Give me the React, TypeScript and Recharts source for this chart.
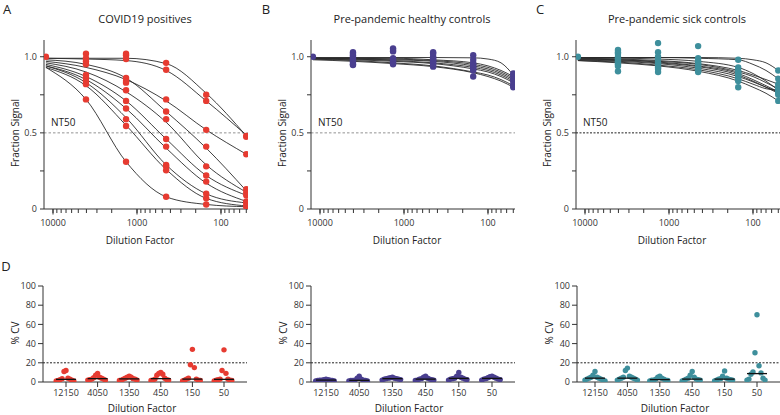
import React from "react";
import { ComposedChart, Line, Scatter, XAxis, YAxis, ReferenceLine } from "recharts";

const dilutions = [12150, 4050, 1350, 450, 150, 50];
const dilutionLabels = ["12150", "4050", "1350", "450", "150", "50"];
const majorTicks = [10000, 1000, 100];
const minorTicks = [9000, 8000, 7000, 6000, 5000, 4000, 3000, 2000, 900, 800, 700, 600, 500, 400, 300, 200, 90, 80, 70, 60, 50];
const fractionTicks = [0, 0.25, 0.5, 0.75, 1];
const cvTicks = [0, 20, 40, 60, 80, 100];

// fitted curves, read at each dilution
const curvesCovid = [
  [0.99, 0.99, 0.99, 0.955, 0.76, 0.48],
  [0.99, 0.985, 0.975, 0.91, 0.71, 0.485],
  [0.97, 0.93, 0.85, 0.71, 0.52, 0.36],
  [0.98, 0.95, 0.86, 0.64, 0.4, 0.12],
  [0.96, 0.9, 0.77, 0.57, 0.29, 0.11],
  [0.95, 0.87, 0.71, 0.46, 0.22, 0.09],
  [0.94, 0.85, 0.66, 0.4, 0.17, 0.05],
  [0.94, 0.83, 0.6, 0.29, 0.1, 0.04],
  [0.93, 0.81, 0.55, 0.26, 0.07, 0.02],
  [0.93, 0.72, 0.31, 0.08, 0.03, 0.015],
];

// control curves are read on a finer grid near the high-concentration end
const controlGrid = [12150, 4050, 1350, 450, 150, 100, 70, 50];
const curvesHealthy = [
  [0.995, 0.995, 0.995, 0.995, 0.993, 0.985, 0.96, 0.88],
  [0.99, 0.99, 0.985, 0.975, 0.95, 0.93, 0.9, 0.86],
  [0.99, 0.985, 0.98, 0.97, 0.94, 0.92, 0.89, 0.85],
  [0.99, 0.985, 0.975, 0.96, 0.93, 0.91, 0.88, 0.84],
  [0.985, 0.98, 0.97, 0.955, 0.92, 0.9, 0.87, 0.83],
  [0.985, 0.975, 0.96, 0.94, 0.9, 0.88, 0.85, 0.81],
  [0.98, 0.97, 0.955, 0.935, 0.895, 0.87, 0.84, 0.8],
  [0.99, 0.99, 0.99, 0.98, 0.96, 0.94, 0.91, 0.87],
];
const curvesSick = [
  [0.995, 0.995, 0.995, 0.995, 0.99, 0.98, 0.96, 0.91],
  [0.995, 0.995, 0.995, 0.99, 0.98, 0.95, 0.91, 0.855],
  [0.99, 0.985, 0.975, 0.955, 0.91, 0.88, 0.85, 0.82],
  [0.985, 0.98, 0.97, 0.95, 0.9, 0.87, 0.83, 0.79],
  [0.985, 0.98, 0.965, 0.94, 0.89, 0.85, 0.81, 0.77],
  [0.98, 0.975, 0.96, 0.935, 0.88, 0.84, 0.8, 0.76],
  [0.98, 0.97, 0.955, 0.925, 0.87, 0.835, 0.8, 0.77],
  [0.975, 0.965, 0.945, 0.915, 0.855, 0.82, 0.79, 0.78],
  [0.975, 0.96, 0.94, 0.905, 0.84, 0.8, 0.76, 0.71],
  [0.99, 0.99, 0.985, 0.97, 0.93, 0.89, 0.84, 0.78],
];

// measured fraction signal, one list per dilution
const dotsCovid = [
  [1.0],
  [1.02, 0.99, 0.97, 0.95, 0.88, 0.86, 0.84, 0.82, 0.72],
  [1.02, 1.01, 0.985, 0.86, 0.84, 0.83, 0.78, 0.71, 0.66, 0.59, 0.545, 0.31],
  [0.96, 0.915, 0.72, 0.64, 0.59, 0.46, 0.41, 0.29, 0.28, 0.255, 0.08],
  [0.75, 0.71, 0.52, 0.41, 0.28, 0.22, 0.18, 0.1, 0.07, 0.03],
  [0.48, 0.475, 0.36, 0.13, 0.11, 0.09, 0.05, 0.04, 0.02, 0.015],
];
const dotsHealthy = [
  [1.0],
  [1.03, 1.02, 1.01, 1.0, 0.99, 0.98, 0.97, 0.96, 0.95, 0.945],
  [1.055, 1.045, 1.035, 0.99, 0.98, 0.97, 0.96, 0.95],
  [1.03, 1.02, 1.0, 0.99, 0.98, 0.97, 0.96, 0.95, 0.935],
  [1.01, 0.98, 0.96, 0.95, 0.94, 0.93, 0.92, 0.91, 0.87],
  [0.89, 0.88, 0.86, 0.85, 0.84, 0.82, 0.81, 0.8],
];
const dotsSick = [
  [1.0],
  [1.045, 1.03, 1.02, 1.0, 0.99, 0.98, 0.97, 0.96, 0.95, 0.94, 0.905],
  [1.09, 1.03, 1.0, 0.98, 0.96, 0.95, 0.93, 0.92, 0.9],
  [1.07, 0.99, 0.97, 0.96, 0.95, 0.94, 0.93, 0.92, 0.91, 0.9],
  [0.98, 0.93, 0.91, 0.9, 0.89, 0.88, 0.87, 0.86, 0.85, 0.84, 0.8],
  [0.91, 0.855, 0.82, 0.8, 0.79, 0.78, 0.77, 0.76, 0.75, 0.71],
];

// %CV per dilution
const cvCovid = [
  [12, 11, 4, 3.5, 3, 2.5, 2, 1.5, 1, 1],
  [9, 7, 5, 4.5, 4, 3, 3, 2.5, 2, 2],
  [6, 5, 5, 4, 3.5, 3, 3, 2, 2, 1.5],
  [10, 9, 8, 7, 4, 3, 2.5, 2, 2, 1.5],
  [34, 18, 15, 4, 3, 3, 2, 2, 1.5, 1],
  [33.5, 12, 9, 3, 3, 2.5, 2, 2, 1.5, 1],
];
const cvHealthy = [
  [3, 2.5, 2.5, 2, 2, 2, 1.5, 1.5, 1, 1],
  [6, 4, 3, 2, 2, 1.5, 1.5, 1.5, 1, 1],
  [5, 4.5, 4, 4, 3.5, 3.5, 3, 3, 2.5, 2],
  [6, 5, 4, 3.5, 3, 3, 2.5, 2, 2, 1.5],
  [10, 6, 5, 4, 4, 3.5, 3, 3, 2.5, 2],
  [6, 5.5, 5, 4.5, 4, 3.5, 3, 3, 2.5, 2],
];
const cvSick = [
  [11, 7, 5, 5, 4, 4, 3, 3, 2, 2, 1],
  [14.5, 12, 6, 5, 5, 4, 4, 3, 3, 2, 2],
  [6, 5, 4, 3, 3, 2, 2, 2, 1.5, 1],
  [11, 7, 5, 4, 3, 3, 2.5, 2, 2, 1],
  [11.5, 6, 4, 3.5, 3, 3, 2.5, 2, 2, 1],
  [70, 30.5, 17, 10.5, 9.5, 8, 4, 3, 2, 2],
];

const RED = "#e63b31";
const PURPLE = "#4a3f8f";
const TEAL = "#3e8f9c";
const AXIS = "#333";
const FONT = "'Open Sans', sans-serif";

// labels only on decades; the tick marks come from the axis itself
const LogTick = (props: any) => {
  const { x, y, payload } = props;
  if (!majorTicks.includes(payload.value)) return <g />;
  return (
    <g>
      <line x1={x} x2={x} y1={y - 4} y2={y + 1.5} stroke={AXIS} strokeWidth={1} />
      <text x={x} y={y + 13} textAnchor="middle" fontSize={9} fill={AXIS}>
        {payload.value}
      </text>
    </g>
  );
};

const Txt = ({ x, y, size, rotate, children }: any) => (
  <div
    style={{
      position: "absolute",
      left: x,
      top: y,
      transform: `translate(-50%, -50%)${rotate ? " rotate(-90deg)" : ""}`,
      fontSize: size,
      whiteSpace: "nowrap",
      color: "#222",
      lineHeight: 1,
    }}
  >
    {children}
  </div>
);

const CurvePanel = ({ left, letter, letterX, title, grid, curves, dots, color, dark }: any) => {
  const dotPts = dots.flatMap((vals: number[], i: number) => vals.map((v) => ({ x: dilutions[i], y: v })));
  return (
    <>
      <div style={{ position: "absolute", left, top: 0 }}>
        <ComposedChart width={260} height={250} margin={{ top: 40, right: 12, bottom: 0, left: 0 }}>
          <XAxis
            type="number"
            dataKey="x"
            scale="log"
            domain={[47.7, 12800]}
            reversed
            allowDataOverflow
            ticks={[...majorTicks, ...minorTicks]}
            interval={0}
            tickSize={4}
            tickMargin={0}
            tickLine={{ stroke: AXIS }}
            tick={<LogTick />}
            height={41}
            stroke={AXIS}
          />
          <YAxis
            type="number"
            dataKey="y"
            domain={[0, 1.11]}
            allowDataOverflow
            ticks={fractionTicks}
            interval={0}
            tickFormatter={(v: number) => (v === 0 ? "0" : v === 0.5 ? "0.5" : v === 1 ? "1.0" : "")}
            width={44}
            tickSize={4}
            tickMargin={3}
            tick={{ fontSize: 9, fill: AXIS }}
            stroke={AXIS}
          />
          <ReferenceLine
            y={0.5}
            stroke={dark ? "#222" : "#777"}
            strokeWidth={dark ? 1 : 0.8}
            strokeDasharray={dark ? "2 1.5" : "2.5 2"}
          />
          {curves.map((c: number[], k: number) => (
            <Line
              key={k}
              data={grid.map((x: number, j: number) => ({ x, y: c[j] }))}
              dataKey="y"
              type="monotone"
              stroke="#2a2a2a"
              strokeWidth={0.9}
              dot={false}
              activeDot={false}
              isAnimationActive={false}
            />
          ))}
          <Scatter
            data={dotPts}
            dataKey="y"
            fill={color}
            isAnimationActive={false}
            shape={(p: any) => <circle cx={p.cx} cy={p.cy} r={3.2} fill={color} />}
          />
        </ComposedChart>
      </div>
      <Txt x={letterX} y={9} size={13}>{letter}</Txt>
      <Txt x={left + 145} y={18} size={11}>{title}</Txt>
      <Txt x={left + 15} y={133} size={10} rotate>Fraction Signal</Txt>
      <Txt x={left + 140} y={240} size={10}>Dilution Factor</Txt>
      <div style={{ position: "absolute", left: left + 51, top: 117, fontSize: 10, color: "#222", lineHeight: 1 }}>NT50</div>
    </>
  );
};

const CvPanel = ({ left, letter, first, spacing, values, color, labelX }: any) => {
  const pts: { x: number; y: number }[] = [];
  const medians: { x: number; y: number }[] = [];
  values.forEach((vals: number[], i: number) => {
    const sorted = [...vals].sort((a, b) => b - a);
    sorted.forEach((v, j) => {
      const off = j === 0 ? 0 : (j % 2 === 1 ? -1 : 1) * Math.ceil(j / 2);
      pts.push({ x: i + off * 0.062, y: v });
    });
    const asc = [...vals].sort((a, b) => a - b);
    const n = asc.length;
    medians.push({ x: i, y: n % 2 ? asc[(n - 1) / 2] : (asc[n / 2 - 1] + asc[n / 2]) / 2 });
  });
  const domain = [-first / spacing, (204 - first) / spacing];
  return (
    <>
      <div style={{ position: "absolute", left, top: 250 }}>
        <ComposedChart width={260} height={165} margin={{ top: 36, right: 12, bottom: 0, left: 0 }}>
          <XAxis
            type="number"
            dataKey="x"
            domain={domain}
            allowDataOverflow
            ticks={[0, 1, 2, 3, 4, 5]}
            interval={0}
            tickFormatter={(i: number) => dilutionLabels[i]}
            tickSize={5}
            tickMargin={3}
            tick={{ fontSize: 9, fill: AXIS }}
            height={33}
            stroke={AXIS}
          />
          <YAxis
            type="number"
            dataKey="y"
            domain={[0, 100]}
            allowDataOverflow
            ticks={cvTicks}
            interval={0}
            width={44}
            tickSize={5}
            tickMargin={2}
            tick={{ fontSize: 9, fill: AXIS }}
            stroke={AXIS}
          />
          <ReferenceLine y={20} stroke="#222" strokeWidth={1} strokeDasharray="2 1.5" />
          <Scatter
            data={pts}
            dataKey="y"
            fill={color}
            isAnimationActive={false}
            shape={(p: any) => <circle cx={p.cx} cy={p.cy} r={2.7} fill={color} />}
          />
          <Scatter
            data={medians}
            dataKey="y"
            fill="#111"
            isAnimationActive={false}
            shape={(p: any) => (
              <line x1={p.cx - 10} x2={p.cx + 10} y1={p.cy} y2={p.cy} stroke="#111" strokeWidth={1.3} />
            )}
          />
        </ComposedChart>
      </div>
      {letter && <Txt x={6} y={266} size={13}>{letter}</Txt>}
      <Txt x={left + 16} y={333} size={10} rotate>% CV</Txt>
      <Txt x={labelX} y={408} size={10}>Dilution Factor</Txt>
    </>
  );
};

export default function App() {
  return (
    <div
      style={{
        position: "absolute",
        left: 0,
        top: 0,
        width: 780,
        height: 415,
        overflow: "hidden",
        background: "#fff",
        fontFamily: FONT,
      }}
    >
      <CurvePanel left={0} letter="A" letterX={7} title="COVID19 positives" grid={dilutions} curves={curvesCovid} dots={dotsCovid} color={RED} />
      <CurvePanel left={267} letter="B" letterX={266} title="Pre-pandemic healthy controls" grid={controlGrid} curves={curvesHealthy} dots={dotsHealthy} color={PURPLE} />
      <CurvePanel left={532} letter="C" letterX={540} title="Pre-pandemic sick controls" grid={controlGrid} curves={curvesSick} dots={dotsSick} color={TEAL} dark />
      <CvPanel left={-1} letter="D" first={23} spacing={31.6} values={cvCovid} color={RED} labelX={142} />
      <CvPanel left={267} first={15} spacing={33.2} values={cvHealthy} color={PURPLE} labelX={409} />
      <CvPanel left={533} first={18} spacing={32.4} values={cvSick} color={TEAL} labelX={675} />
    </div>
  );
}
